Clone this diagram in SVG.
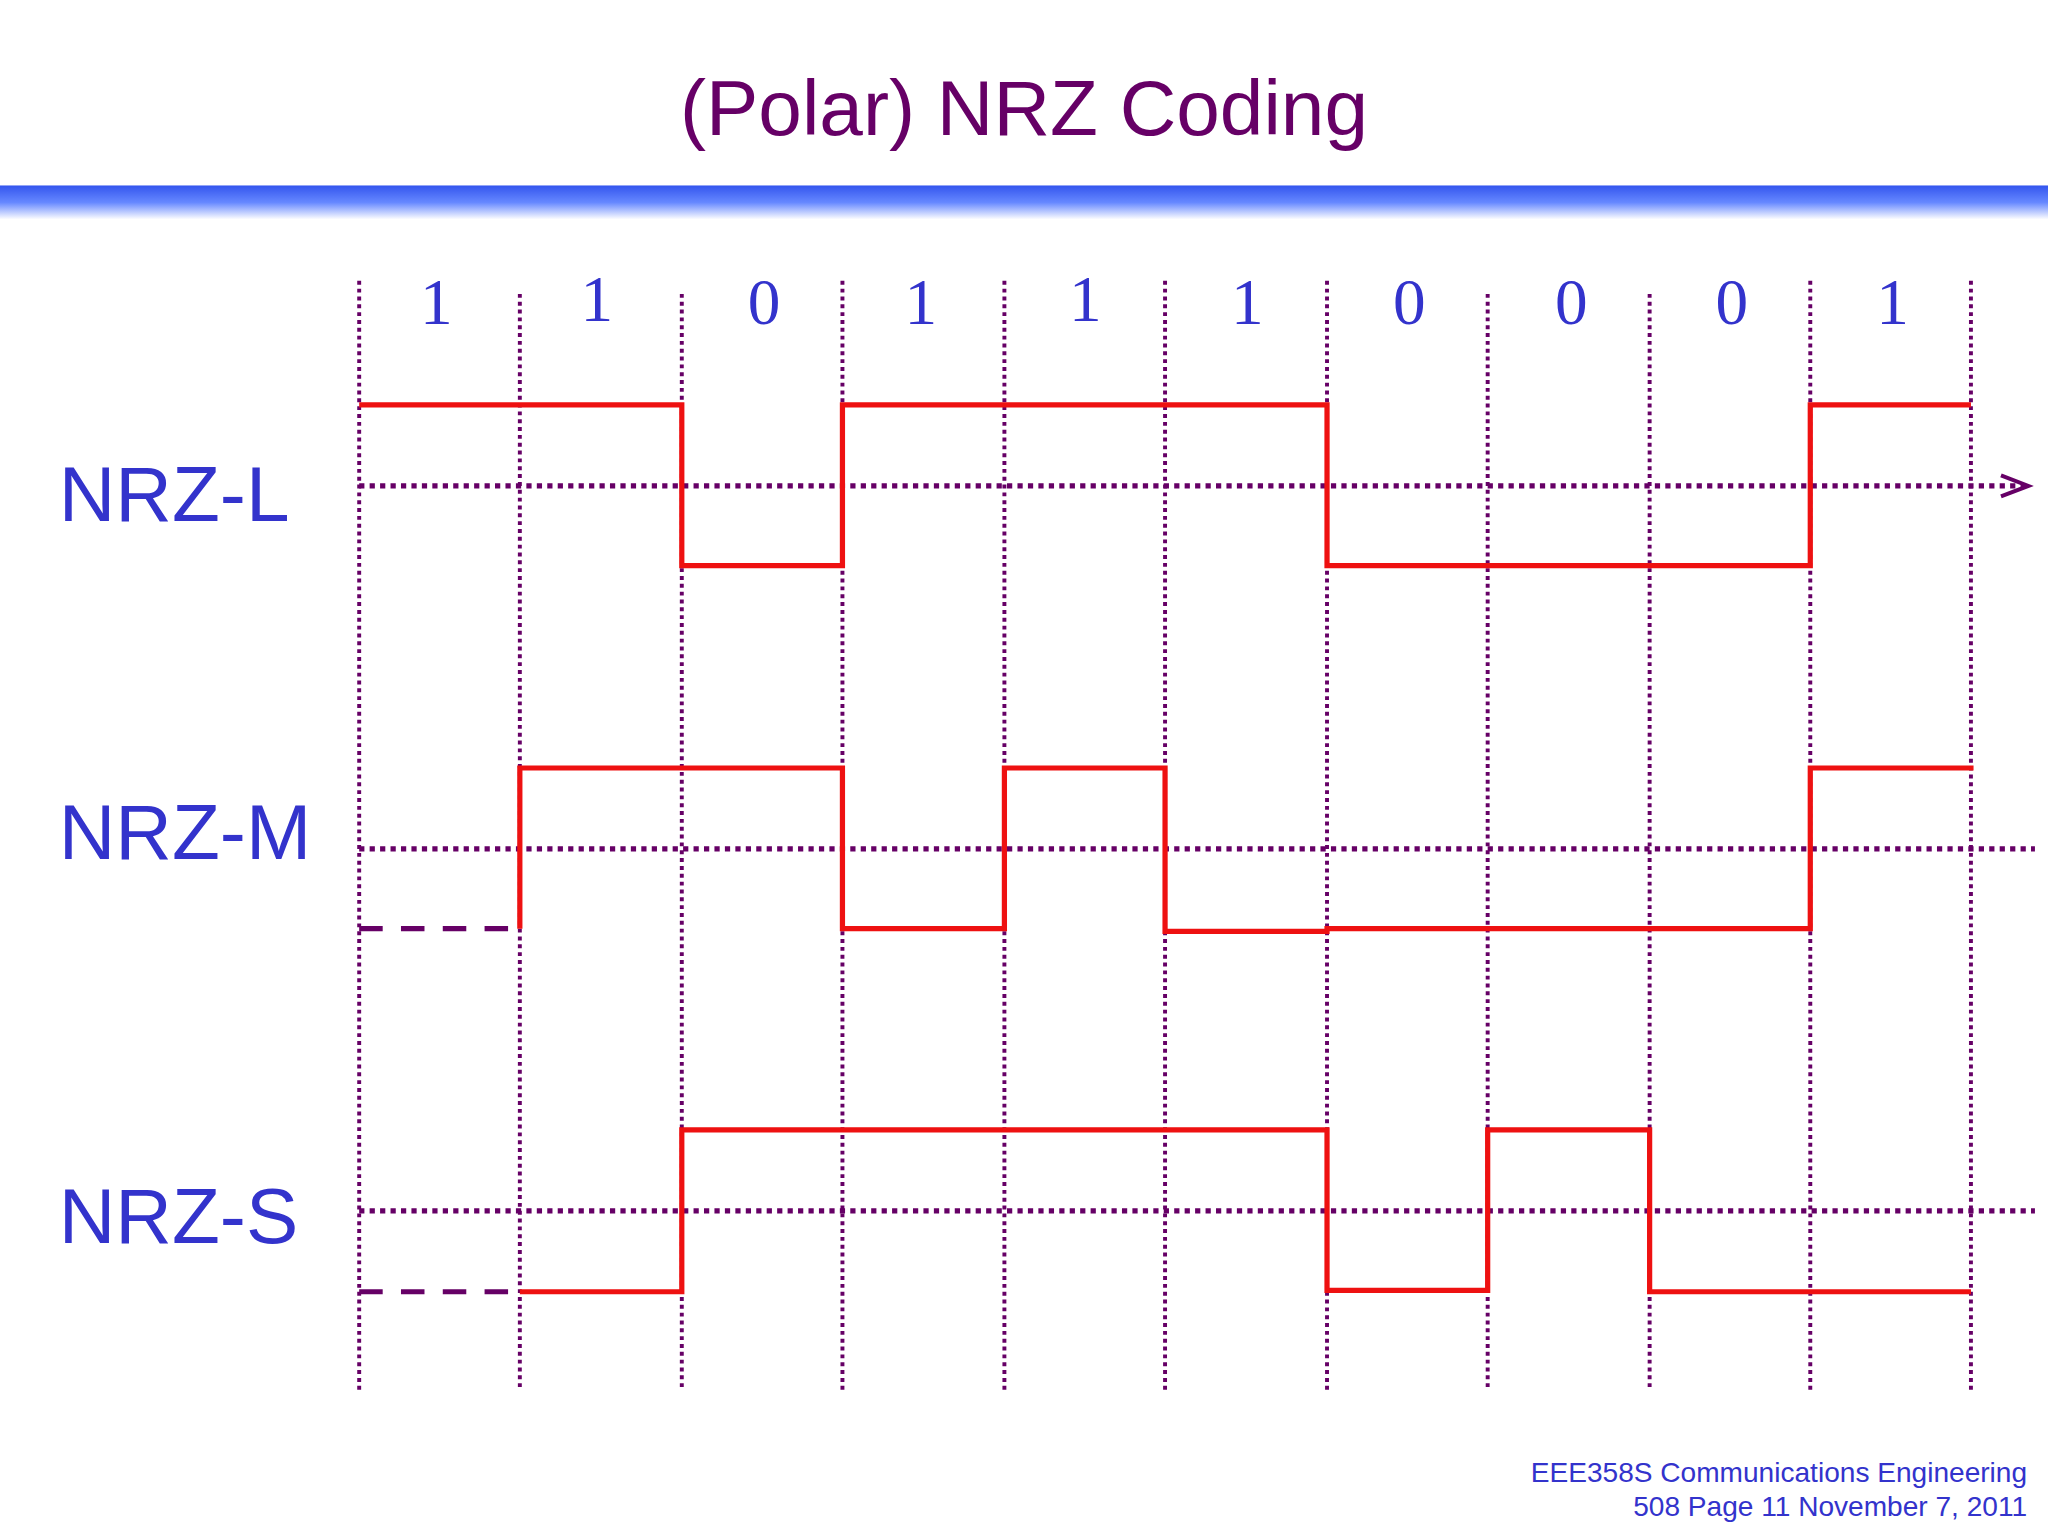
<svg xmlns="http://www.w3.org/2000/svg" width="2048" height="1536" viewBox="0 0 2048 1536">
<defs>
<linearGradient id="band" x1="0" y1="0" x2="0" y2="1">
<stop offset="0" stop-color="#3355ee"/><stop offset="0.5" stop-color="#6688ff"/><stop offset="1" stop-color="#ffffff"/>
</linearGradient>
<style>
.grid{stroke:#660066;stroke-width:3;stroke-dasharray:3 3;fill:none}
.axis{stroke:#660066;stroke-width:4;stroke-dasharray:4 4;fill:none}
.sig{stroke:#ee1111;stroke-width:4;fill:none}
.dash{stroke:#660066;stroke-width:4;stroke-dasharray:18 14;fill:none}
.bit{font-family:"Liberation Serif",serif;font-size:50px;fill:#3333cc;text-anchor:middle}
.lbl{font-family:"Liberation Sans",sans-serif;font-size:60px;fill:#3333cc}
.foot{font-family:"Liberation Sans",sans-serif;font-size:21.5px;fill:#3333cc;text-anchor:end}
</style>
</defs>
<rect width="2048" height="1536" fill="#fff"/>
<g transform="scale(1.30612)">
<rect x="0" y="142" width="1568" height="26" fill="url(#band)"/>
<text x="784" y="103" text-anchor="middle" font-family="Liberation Sans,sans-serif" font-size="60" fill="#660066">(Polar) NRZ Coding</text>
<g id="grid">
<path class="grid" d="M275,215V1065M398,225V1065M522,225V1065M645,215V1065M769,215V1065M892,215V1065M1016,215V1065M1139,225V1065M1263,225V1065M1386,215V1065M1509,215V1065"/>
</g>
<g id="bits">
<text class="bit" x="334" y="248">1</text><text class="bit" x="457" y="246">1</text><text class="bit" x="585" y="248">0</text><text class="bit" x="705" y="248">1</text><text class="bit" x="831" y="246">1</text><text class="bit" x="955" y="248">1</text><text class="bit" x="1079" y="248">0</text><text class="bit" x="1203" y="248">0</text><text class="bit" x="1326" y="248">0</text><text class="bit" x="1449" y="248">1</text>
</g>
<g id="connectors">
<path class="axis" d="M275,372H1550"/>
<path d="M1532,364L1553,372L1532,380" stroke="#660066" stroke-width="3" fill="none"/>
<path class="axis" d="M275,650H1558"/>
<path class="axis" d="M275,927H1558"/>
<path class="dash" d="M275,711H398"/>
<path class="dash" d="M275,989H398"/>
</g>
<g id="nrz-l"><text class="lbl" x="45" y="399">NRZ-L</text>
<path class="sig" d="M275,310H522V433H645V310H1016V433H1386V310H1509"/></g>
<g id="nrz-m"><text class="lbl" x="45" y="658">NRZ-M</text>
<path class="sig" d="M398,711V588H645V711H769V588H892V713H1016V711H1386V588H1511"/></g>
<g id="nrz-s"><text class="lbl" x="45" y="952">NRZ-S</text>
<path class="sig" d="M398,989H522V865H1016V988H1139V865H1263V989H1509"/></g>
<g id="footer">
<text class="foot" x="1552" y="1135">EEE358S Communications Engineering</text>
<text class="foot" x="1552" y="1161">508 Page 11 November 7, 2011</text>
</g>
</g>
</svg>
